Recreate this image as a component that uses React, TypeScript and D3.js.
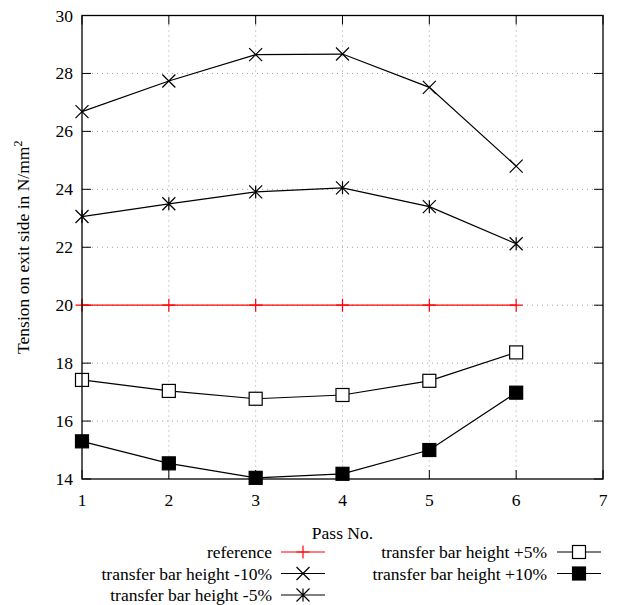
import React from "react";
import * as d3 from "d3";

const passes = [1, 2, 3, 4, 5, 6];
const seriesNames = [
  "reference",
  "transfer bar height -10%",
  "transfer bar height -5%",
  "transfer bar height +5%",
  "transfer bar height +10%",
];
const refValues = [20, 20, 20, 20, 20, 20];
const minus10Values = [26.68, 27.74, 28.65, 28.67, 27.52, 24.8];
const minus5Values = [23.06, 23.5, 23.91, 24.05, 23.4, 22.12];
const plus5Values = [17.42, 17.04, 16.77, 16.9, 17.39, 18.37];
const plus10Values = [15.3, 14.54, 14.04, 14.18, 15.0, 16.98];
const xTicks = [1, 2, 3, 4, 5, 6, 7];
const yTicks = [14, 16, 18, 20, 22, 24, 26, 28, 30];

const FONT = "Liberation Serif, Times New Roman, Times, DejaVu Serif, serif";
const FS = 17.5;
const textStyle: React.CSSProperties = { fontFamily: FONT, fontSize: FS };

type Kind = "plus" | "cross" | "star" | "square" | "filled";

function Marker({ kind, x, y, color }: { kind: Kind; x: number; y: number; color: string }) {
  const s = 6.5;
  if (kind === "plus")
    return (
      <path d={`M${x - s},${y}H${x + s}M${x},${y - s}V${y + s}`} stroke={color} strokeWidth={1.2} fill="none" />
    );
  if (kind === "cross")
    return (
      <path
        d={`M${x - s},${y - s}L${x + s},${y + s}M${x - s},${y + s}L${x + s},${y - s}`}
        stroke={color}
        strokeWidth={1.2}
        fill="none"
      />
    );
  if (kind === "star")
    return (
      <path
        d={`M${x - s},${y - s}L${x + s},${y + s}M${x - s},${y + s}L${x + s},${y - s}M${x},${y - s}V${y + s}`}
        stroke={color}
        strokeWidth={1.2}
        fill="none"
      />
    );
  if (kind === "square")
    return <rect x={x - s} y={y - s} width={2 * s} height={2 * s} fill="white" stroke={color} strokeWidth={1.2} />;
  return <rect x={x - s} y={y - s} width={2 * s} height={2 * s} fill={color} stroke={color} strokeWidth={1.2} />;
}

export default function App() {
  const W = 622;
  const H = 605;
  const left = 82;
  const right = 603;
  const top = 15.5;
  const bottom = 479;

  const x = d3.scaleLinear().domain([1, 7]).range([left, right]);
  const y = d3.scaleLinear().domain([14, 30]).range([bottom, top]);

  const series: { name: string; values: number[]; kind: Kind; color: string }[] = [
    { name: seriesNames[0], values: refValues, kind: "plus", color: "#ff0000" },
    { name: seriesNames[1], values: minus10Values, kind: "cross", color: "#000" },
    { name: seriesNames[2], values: minus5Values, kind: "star", color: "#000" },
    { name: seriesNames[3], values: plus5Values, kind: "square", color: "#000" },
    { name: seriesNames[4], values: plus10Values, kind: "filled", color: "#000" },
  ];

  const line = d3
    .line<number>()
    .x((_, i) => x(passes[i]))
    .y((d) => y(d));

  const legendPos = [
    { tx: 272, lx0: 281, lx1: 325, ly: 552 },
    { tx: 272, lx0: 281, lx1: 325, ly: 573.5 },
    { tx: 272, lx0: 281, lx1: 325, ly: 595 },
    { tx: 547, lx0: 557, lx1: 601, ly: 552 },
    { tx: 547, lx0: 557, lx1: 601, ly: 573.5 },
  ];

  const tick = 9;

  return (
    <svg width={W} height={H} style={{ position: "absolute", left: 0, top: 0 }}>
      <rect width={W} height={H} fill="white" />
      {/* grid */}
      {xTicks
        .filter((t) => t > 1 && t < 7)
        .map((t) => (
          <line key={"gx" + t} x1={x(t)} x2={x(t)} y1={top} y2={bottom} stroke="#a0a0a0" strokeWidth={1} strokeDasharray="1,4" />
        ))}
      {yTicks
        .filter((t) => t > 14 && t < 30)
        .map((t) => (
          <line key={"gy" + t} x1={left} x2={right} y1={y(t)} y2={y(t)} stroke="#a0a0a0" strokeWidth={1} strokeDasharray="1,4" />
        ))}
      {/* ticks */}
      {xTicks.map((t) => (
        <g key={"tx" + t}>
          <line x1={x(t)} x2={x(t)} y1={bottom} y2={bottom - tick} stroke="#000" strokeWidth={1} />
          <line x1={x(t)} x2={x(t)} y1={top} y2={top + tick} stroke="#000" strokeWidth={1} />
          <text x={x(t)} y={506} textAnchor="middle" style={textStyle}>
            {t}
          </text>
        </g>
      ))}
      {yTicks.map((t) => (
        <g key={"ty" + t}>
          <line x1={left} x2={left + tick} y1={y(t)} y2={y(t)} stroke="#000" strokeWidth={1} />
          <line x1={right} x2={right - tick} y1={y(t)} y2={y(t)} stroke="#000" strokeWidth={1} />
          <text x={73} y={y(t) + 6} textAnchor="end" style={textStyle}>
            {t}
          </text>
        </g>
      ))}
      {/* series */}
      {series.map((s) => (
        <g key={s.name}>
          <path d={line(s.values) || ""} fill="none" stroke={s.color} strokeWidth={1.2} />
          {s.values.map((v, i) => (
            <Marker key={i} kind={s.kind} x={x(passes[i])} y={y(v)} color={s.color} />
          ))}
        </g>
      ))}
      {/* frame */}
      <rect x={left} y={top} width={right - left} height={bottom - top} fill="none" stroke="#000" strokeWidth={1.3} />
      {/* axis labels */}
      <text x={342.5} y={539} textAnchor="middle" style={textStyle}>
        Pass No.
      </text>
      <text transform={`translate(29,${(top + bottom) / 2}) rotate(-90)`} textAnchor="middle" style={textStyle}>
        Tension on exit side in N/mm<tspan dy={-7} style={{ fontSize: 12 }}>2</tspan>
      </text>
      {/* legend */}
      {series.map((s, i) => {
        const p = legendPos[i];
        return (
          <g key={"lg" + i}>
            <text x={p.tx} y={p.ly + 6} textAnchor="end" style={textStyle}>
              {s.name}
            </text>
            <line x1={p.lx0} x2={p.lx1} y1={p.ly} y2={p.ly} stroke={s.color} strokeWidth={1.2} />
            <Marker kind={s.kind} x={(p.lx0 + p.lx1) / 2} y={p.ly} color={s.color} />
          </g>
        );
      })}
    </svg>
  );
}
